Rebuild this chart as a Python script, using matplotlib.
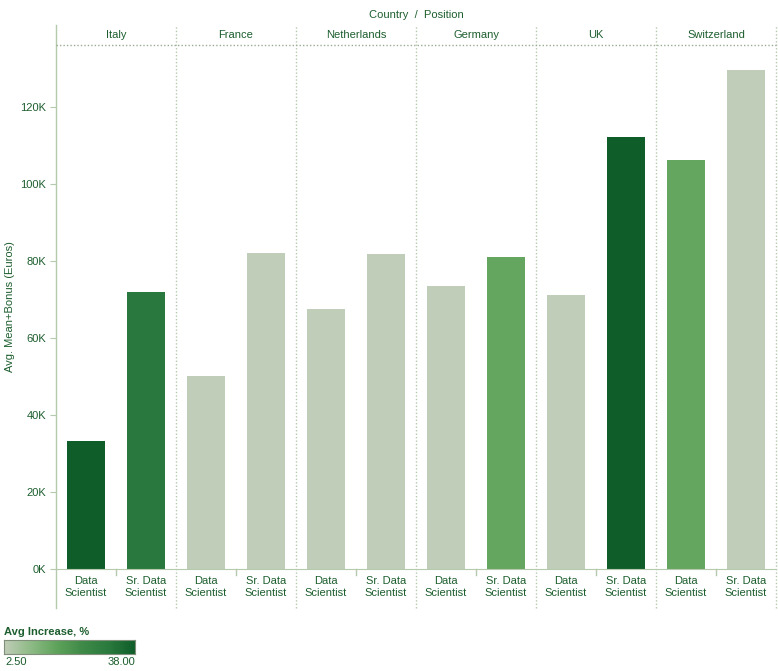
import numpy as np
import matplotlib
matplotlib.use("Agg")
import matplotlib.pyplot as plt
from matplotlib.colors import LinearSegmentedColormap

# data
countries = ["Italy", "France", "Netherlands", "Germany", "UK", "Switzerland"]
positions = ["Data\nScientist", "Sr. Data\nScientist"]
ds_pay = [33200, 50100, 67500, 73500, 71200, 106200]
sr_pay = [72000, 82100, 81800, 81000, 112000, 129600]
ds_incr = [38.0, 2.5, 2.5, 2.5, 2.5, 16.0]
sr_incr = [31.0, 2.5, 2.5, 16.0, 38.0, 2.5]
incr_min, incr_max = 2.5, 38.0

txt = "#1d5e2e"
line = "#b5c9ad"
plt.rcParams['font.family'] = ['Liberation Sans', 'DejaVu Sans']
plt.rcParams['font.size'] = 8

cmap = LinearSegmentedColormap.from_list(
    "grn", ["#c0cdb8", "#8fbb87", "#5fa35b", "#3f8a48", "#2a7a3e", "#0f5e2a"])

W, H = 778, 671
fig = plt.figure(figsize=(W / 100, H / 100), dpi=100)

def fax(x0, y0, x1, y1):
    # pixel box (top-left origin) -> figure axes
    return fig.add_axes([x0 / W, (H - y1) / H, (x1 - x0) / W, (y1 - y0) / H])

ax = fax(56, 45, 776, 569)

pay = []
incr = []
for i in range(len(countries)):
    pay += [ds_pay[i], sr_pay[i]]
    incr += [ds_incr[i], sr_incr[i]]
x = np.arange(len(pay))
norm = plt.Normalize(incr_min, incr_max)
ax.bar(x, pay, width=0.63, color=[cmap(norm(v)) for v in incr], zorder=2)

ax.set_xlim(-0.5, len(pay) - 0.5)
ax.set_ylim(0, 136000)
yt = np.arange(0, 120001, 20000)
ax.set_yticks(yt)
ax.set_yticklabels(["%dK" % (v // 1000) for v in yt], color=txt)
ax.tick_params(axis='y', length=4, color=line, pad=3)
ax.set_xticks(x)
ax.set_xticklabels(positions * len(countries), color=txt, linespacing=1.25)
ax.tick_params(axis='x', length=0, pad=5)
fig.text(10 / W, 1 - 307 / H, "Avg. Mean+Bonus (Euros)", color=txt,
         rotation=90, ha='center', va='center')

for s in ["left", "right", "top"]:
    ax.spines[s].set_visible(False)
ax.spines["bottom"].set_color(line)

trans = ax.get_xaxis_transform()
# panel separators, header line, small ticks between positions
for k in range(len(countries) + 1):
    xb = 2 * k - 0.5
    ax.plot([xb, xb], [-0.0744, 1.038], transform=trans, color=line,
            lw=1, ls=(0, (1, 1.5)) if k else '-', clip_on=False)
for k in range(len(countries)):
    ax.plot([2 * k + 0.5] * 2, [0, -0.012], transform=trans, color=line,
            lw=1, clip_on=False)
    ax.text(2 * k + 0.5, 1.019, countries[k], transform=trans, ha='center',
            va='center', color=txt)
ax.plot([-0.5, len(pay) - 0.5], [1, 1], transform=trans, color="#9aab94",
        lw=1, ls=(0, (1, 1.5)), clip_on=False)
fig.text(416 / W, 1 - 15 / H, "Country  /  Position", ha='center',
         va='center', color=txt)

# colour legend
fig.text(4 / W, 1 - 632 / H, "Avg Increase, %", fontweight='bold',
         color=txt, va='center', ha='left')
lax = fax(4, 640, 135, 654)
lax.imshow(np.linspace(incr_min, incr_max, 256)[None, :], cmap=cmap,
           aspect='auto', norm=norm)
lax.set_xticks([])
lax.set_yticks([])
for s in lax.spines.values():
    s.set_color("#7f8f7a")
fig.text(5 / W, 1 - 662 / H, "%.2f" % incr_min, color=txt, va='center')
fig.text(135 / W, 1 - 662 / H, "%.2f" % incr_max, color=txt, va='center',
         ha='right')

fig.savefig("out.png", dpi=100)
